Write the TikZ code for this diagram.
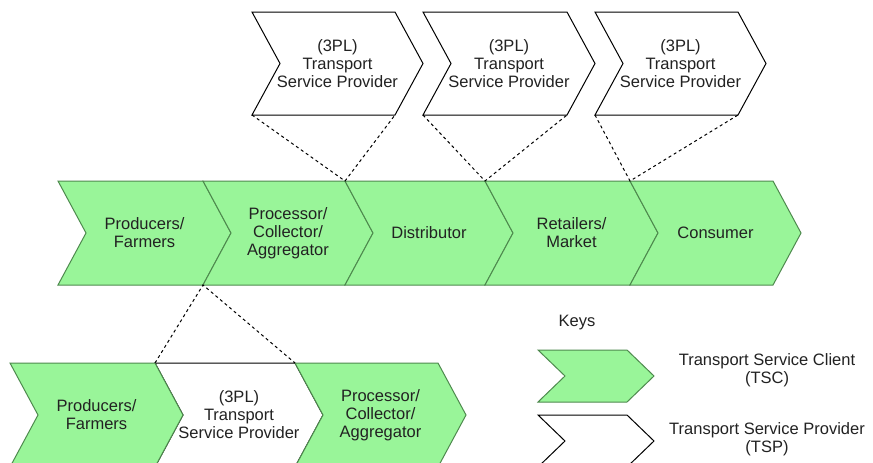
\documentclass[tikz,border=0pt]{standalone}
\usepackage{fontspec}
\setmainfont{Liberation Sans}
\usetikzlibrary{calc}
\definecolor{tscfill}{HTML}{99F599}
\definecolor{tscline}{HTML}{4E8A4E}
\definecolor{txt}{HTML}{222222}
\tikzset{
  tsc/.style={fill=tscfill,draw=tscline,line width=1pt,line join=miter},
  tsp/.style={fill=white,draw=black,line width=1pt,line join=miter},
  lbl/.style={text=txt,align=center,inner sep=0pt,font=\fontsize{16.5}{18}\selectfont},
  link/.style={draw=black,line width=1pt,dash pattern=on 3pt off 3pt}
}
% name, L, T, W, H, d, style, text
\newcommand\mkchev[8]{%
  \path (#2,#3) coordinate (#1-tl)
        ++(#4,0) coordinate (#1-tr)
        ++(#6,#5/2) coordinate (#1-tip)
        ++(-#6,#5/2) coordinate (#1-br)
        ++(-#4,0) coordinate (#1-bl)
        ++(#6,-#5/2) coordinate (#1-notch);
  \draw[#7] (#1-tl) -- (#1-tr) -- (#1-tip) -- (#1-br) -- (#1-bl) -- (#1-notch) -- cycle;
  \node[lbl] (#1) at ($(#1-tl)!0.5!(#1-br)+(#6/2,0)$) {#8};
}
\begin{document}
\begin{tikzpicture}[x=1pt,y=-1pt]
\clip (0,0) rectangle (873,463);
\fill[white] (0,0) rectangle (873,463);
% top providers
\mkchev{tA}{252}{12}{143}{103}{28}{tsp}{(3PL)\\Transport\\Service Provider}
\mkchev{tB}{423}{12}{144}{103}{28}{tsp}{(3PL)\\Transport\\Service Provider}
\mkchev{tC}{595}{12}{143}{103}{28}{tsp}{(3PL)\\Transport\\Service Provider}
% main row
\mkchev{m1}{58}{181}{145}{104}{28}{tsc}{Producers/\\Farmers}
\mkchev{m2}{203}{181}{142}{104}{28}{tsc}{Processor/\\Collector/\\Aggregator}
\mkchev{m3}{345}{181}{140}{104}{28}{tsc}{Distributor}
\mkchev{m4}{485}{181}{145}{104}{28}{tsc}{Retailers/\\Market}
\mkchev{m5}{630}{181}{143}{104}{28}{tsc}{Consumer}
% bottom row
\mkchev{b2}{155}{363}{140}{104}{28}{tsp}{(3PL)\\Transport\\Service Provider}
\mkchev{b1}{10}{363}{145}{104}{28}{tsc}{Producers/\\Farmers}
\mkchev{b3}{295}{363}{143}{104}{28}{tsc}{Processor/\\Collector/\\Aggregator}
% dashed links
\draw[link] (tA-bl) -- (m3-tl) -- (tA-br);
\draw[link] (tB-bl) -- (m4-tl) -- (tB-br);
\draw[link] (tC-bl) -- (m5-tl) -- (tC-br);
\draw[link] (b2-tl) -- (m2-bl) -- (b2-tr);
% keys
\node[lbl] (keys) at (577,323) {Keys};
\mkchev{kA}{538}{350}{89}{52}{27}{tsc}{}
\mkchev{kB}{538}{415}{89}{52}{27}{tsp}{}
\node[lbl] (kAt) at (767,370) {Transport Service Client\\(TSC)};
\node[lbl] (kBt) at (767,439) {Transport Service Provider\\(TSP)};
\end{tikzpicture}
\end{document}
